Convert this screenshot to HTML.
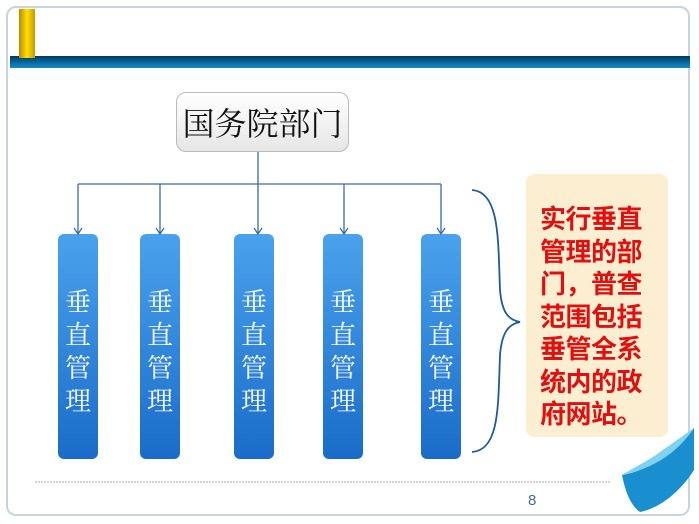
<!DOCTYPE html>
<html><head><meta charset="utf-8"><style>
body{margin:0;width:699px;height:524px;background:#fff;position:relative;overflow:hidden;font-family:"Liberation Sans","Noto Sans CJK SC",sans-serif}
.frame{position:absolute;left:6px;top:6px;width:684px;height:510px;border:2px solid #c9d3de;border-radius:10px;box-sizing:border-box}
.band{position:absolute;left:10px;top:56px;width:680px;height:12px;background:linear-gradient(#02385e,#0a6ea8 60%,#1a8bc4)}
.gold{position:absolute;left:19px;top:9px;width:16px;height:49px;background:linear-gradient(90deg,#b88a00,#ffe000 50%,#c89800)}
.top{position:absolute;left:176px;top:92px;width:173px;height:60px;border:1px solid #bbb;border-radius:10px;box-sizing:border-box;background:linear-gradient(#fff,#e6e6e6);font:32px "Noto Serif CJK SC",serif;text-align:center;line-height:58px;color:#111}
.p{position:absolute;top:234px;width:40px;height:225px;border-radius:6px;background:linear-gradient(#4aa2ec,#1a6cc8);color:#fff;font:26px "Noto Serif CJK SC",serif;text-align:center;box-sizing:border-box;padding-top:50px;line-height:33px}
.note{position:absolute;left:526px;top:174px;width:142px;height:263px;background:#fcefd1;border-radius:8px;color:#e01010;font:bold 26px "Noto Sans CJK SC",sans-serif;line-height:32.5px;padding:28px 0 0 14px;box-sizing:border-box;letter-spacing:-0.5px}
</style></head><body>
<div class="frame"></div>
<div class="band"></div><div class="gold"></div>
<div class="top">国务院部门</div>
<div class="p" style="left:58px">垂<br>直<br>管<br>理</div>
<div class="p" style="left:140px">垂<br>直<br>管<br>理</div>
<div class="p" style="left:234px">垂<br>直<br>管<br>理</div>
<div class="p" style="left:323px">垂<br>直<br>管<br>理</div>
<div class="p" style="left:421px">垂<br>直<br>管<br>理</div>
<div class="note">实行垂直<br>管理的部<br>门，普查<br>范围包括<br>垂管全系<br>统内的政<br>府网站。</div>
<svg style="position:absolute;left:0;top:0" width="699" height="524">
<g stroke="#3b6aa0" stroke-width="1.3" fill="none">
<path d="M258 152V233M78 184H441M78 184V233M160 184V233M344 184V233M441 184V233"/>
<path d="M74 228l4 6 4-6M156 228l4 6 4-6M254 228l4 6 4-6M340 228l4 6 4-6M437 228l4 6 4-6"/>
<path d="M472 190C500 192 498 240 500 290C502 315 510 320 520 322C510 324 502 330 500 355C498 405 500 450 472 452" stroke="#1f5a9a" stroke-width="1.8"/>
</g>
<line x1="35" y1="482" x2="610" y2="482" stroke="#aaa" stroke-dasharray="2 1"/>
<text x="528" y="505" font-size="15" fill="#4a6a9a" font-family="Liberation Sans">8</text>
<path d="M694 428L694 470C680 492 660 508 640 512C630 505 625 490 622 475C650 470 675 452 694 428Z" fill="#1a8fd0"/>
<path d="M694 428C678 452 655 468 622 475C636 466 650 460 660 452Z" fill="#7fd2f2"/>
</svg>
</body></html>
